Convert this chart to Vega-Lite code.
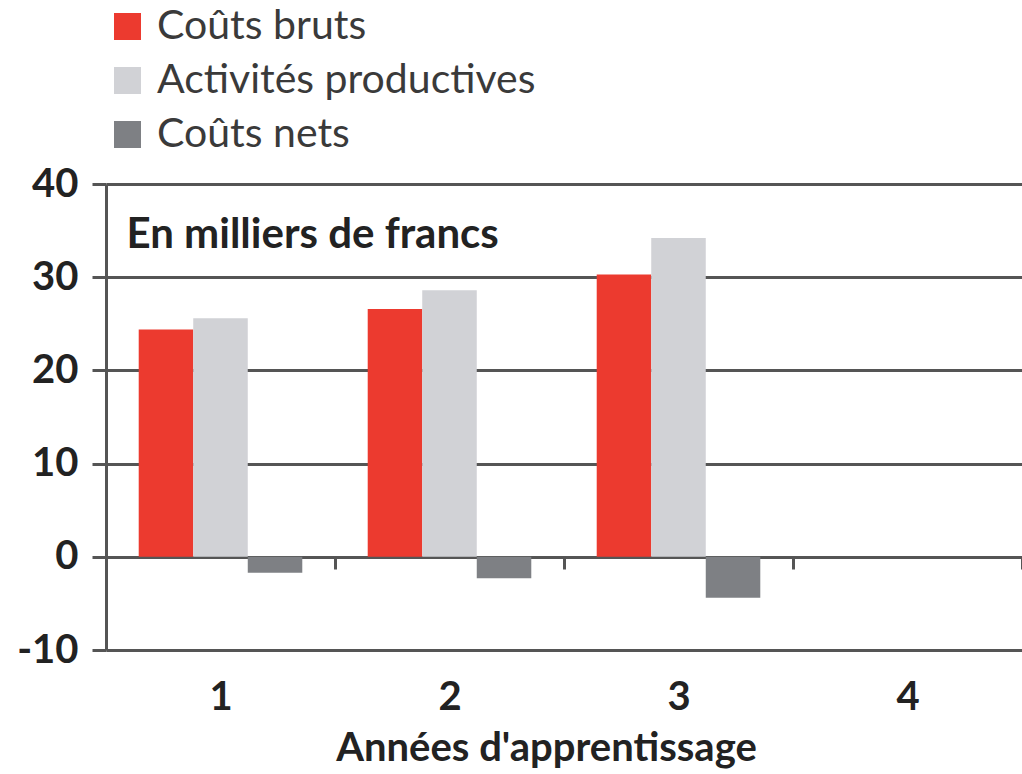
{
  "$schema": "https://vega.github.io/schema/vega-lite/v6.json",
  "autosize": {"type": "none"},
  "width": 916,
  "height": 466,
  "padding": {"left": 106, "top": 184, "right": 0, "bottom": 124},
  "background": "white",
  "view": {"stroke": null},
  "layer": [
    {
      "data": {
        "values": [
          {"annee": "1", "serie": "Coûts bruts", "valeur": 24.4},
          {"annee": "1", "serie": "Activités productives", "valeur": 25.6},
          {"annee": "1", "serie": "Coûts nets", "valeur": -1.7},
          {"annee": "2", "serie": "Coûts bruts", "valeur": 26.6},
          {"annee": "2", "serie": "Activités productives", "valeur": 28.6},
          {"annee": "2", "serie": "Coûts nets", "valeur": -2.3},
          {"annee": "3", "serie": "Coûts bruts", "valeur": 30.3},
          {"annee": "3", "serie": "Activités productives", "valeur": 34.2},
          {"annee": "3", "serie": "Coûts nets", "valeur": -4.4}
        ]
      },
      "mark": {"type": "bar"},
      "encoding": {
        "x": {
          "field": "annee",
          "type": "nominal",
          "scale": {"domain": ["1", "2", "3", "4"], "paddingInner": 0, "paddingOuter": 0},
          "axis": {
            "orient": "bottom",
            "offset": -93,
            "domain": false,
            "grid": false,
            "ticks": true,
            "tickBand": "extent",
            "tickSize": 12,
            "tickWidth": 3,
            "tickColor": "#555555",
            "labelAngle": 0,
            "labelFont": "Lato",
            "labelFontSize": 40,
            "labelFontWeight": "bold",
            "labelColor": "#222222",
            "labelPadding": 108,
            "title": "Années d'apprentissage",
            "titleFont": "Lato",
            "titleFontSize": 40,
            "titleFontWeight": "bold",
            "titleColor": "#222222",
            "titleAlign": "center",
            "titleBaseline": "alphabetic",
            "titleX": 440,
            "titleY": 203
          }
        },
        "xOffset": {
          "field": "serie",
          "type": "nominal",
          "sort": ["Coûts bruts", "Activités productives", "Coûts nets"],
          "scale": {"paddingInner": 0, "paddingOuter": 0.6}
        },
        "y": {
          "field": "valeur",
          "type": "quantitative",
          "scale": {"domain": [-10, 40], "nice": false, "zero": false},
          "axis": {
            "values": [-10, 0, 10, 20, 30, 40],
            "labelExpr": "replace(datum.label, '−', '-')",
            "grid": true,
            "gridColor": "#555555",
            "gridWidth": 3,
            "gridOpacity": 1,
            "domain": true,
            "domainColor": "#555555",
            "domainWidth": 3,
            "ticks": true,
            "tickSize": 14,
            "tickWidth": 3,
            "tickColor": "#555555",
            "labelFont": "Lato",
            "labelFontSize": 40,
            "labelFontWeight": "bold",
            "labelColor": "#222222",
            "labelPadding": 14,
            "title": null
          }
        },
        "color": {
          "field": "serie",
          "type": "nominal",
          "sort": ["Coûts bruts", "Activités productives", "Coûts nets"],
          "scale": {
            "domain": ["Coûts bruts", "Activités productives", "Coûts nets"],
            "range": ["#EC3A2F", "#D1D2D6", "#7E8084"]
          },
          "legend": {
            "orient": "none",
            "legendX": 1,
            "legendY": -178,
            "padding": 0,
            "title": null,
            "symbolType": "square",
            "symbolSize": 729,
            "symbolStrokeWidth": 0,
            "symbolOpacity": 1,
            "labelFont": "Lato",
            "labelFontSize": 41,
            "labelFontWeight": "normal",
            "labelColor": "#3a3a3a",
            "labelOffset": 9,
            "labelLimit": 600,
            "rowPadding": 12
          }
        }
      }
    },
    {
      "data": {"values": [{"annee": "1", "valeur": 33.1, "texte": "En milliers de francs"}]},
      "mark": {
        "type": "text",
        "align": "left",
        "baseline": "alphabetic",
        "dx": -94,
        "font": "Lato",
        "fontSize": 42,
        "fontWeight": "bold",
        "color": "#222222"
      },
      "encoding": {
        "x": {"field": "annee", "type": "nominal"},
        "y": {"field": "valeur", "type": "quantitative"},
        "text": {"field": "texte"}
      }
    }
  ]
}
